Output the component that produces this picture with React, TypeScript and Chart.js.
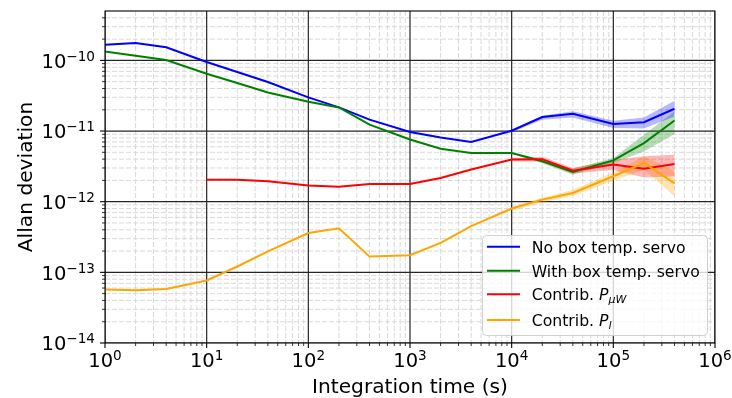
import { useEffect, useRef } from 'react';
import { Chart, registerables } from 'chart.js';

Chart.register(...registerables);

const FONT = '"DejaVu Sans", "Liberation Sans", sans-serif';

// Averaging times (s)
const taus = [1, 2, 4, 10, 20, 40, 100, 200, 400, 1000, 2000, 4000, 1e4, 2e4, 4e4, 1e5, 2e5, 4e5];

// Allan deviation series
const noBoxServo = [1.67e-10, 1.76e-10, 1.53e-10, 9.5e-11, 6.85e-11, 4.95e-11, 3.0e-11, 2.16e-11, 1.45e-11, 9.7e-12, 8.1e-12, 7.0e-12, 1.01e-11, 1.58e-11, 1.76e-11, 1.26e-11, 1.33e-11, 2.07e-11];
const withBoxServo = [1.34e-10, 1.16e-10, 1.01e-10, 6.48e-11, 4.79e-11, 3.52e-11, 2.6e-11, 2.16e-11, 1.23e-11, 7.6e-12, 5.6e-12, 4.9e-12, 4.9e-12, 3.73e-12, 2.63e-12, 3.84e-12, 6.76e-12, 1.41e-11];
const contribPuw = [null, null, null, 2.05e-12, 2.05e-12, 1.95e-12, 1.69e-12, 1.63e-12, 1.78e-12, 1.78e-12, 2.17e-12, 2.85e-12, 3.94e-12, 4.0e-12, 2.74e-12, 3.35e-12, 2.93e-12, 3.42e-12];
const contribPl = [5.7e-14, 5.6e-14, 5.8e-14, 7.66e-14, 1.21e-13, 1.98e-13, 3.6e-13, 4.2e-13, 1.67e-13, 1.75e-13, 2.61e-13, 4.5e-13, 8.0e-13, 1.07e-12, 1.33e-12, 2.29e-12, 3.53e-12, 1.82e-12];

// Confidence bands at long averaging times
const bandTaus = [1e4, 2e4, 4e4, 1e5, 2e5, 4e5];
const noBoxLow = [9.64e-12, 1.45e-11, 1.56e-11, 1.1e-11, 1.09e-11, 1.61e-11];
const noBoxHigh = [1.045e-11, 1.65e-11, 1.9e-11, 1.4e-11, 1.56e-11, 2.69e-11];
const withBoxLow = [4.8e-12, 3.51e-12, 2.41e-12, 3.54e-12, 5.15e-12, 9.1e-12];
const withBoxHigh = [5.02e-12, 3.97e-12, 2.93e-12, 4.17e-12, 8.87e-12, 1.9e-11];
const puwLow = [3.74e-12, 3.68e-12, 2.5e-12, 2.8e-12, 2.2e-12, 2.3e-12];
const puwHigh = [4.13e-12, 4.34e-12, 3.0e-12, 3.9e-12, 4.38e-12, 4.6e-12];
const plLow = [7.46e-13, 9.84e-13, 1.2e-12, 1.98e-12, 2.83e-12, 1.19e-12];
const plHigh = [8.49e-13, 1.14e-12, 1.46e-12, 2.6e-12, 4.38e-12, 2.7e-12];

const xDecades = [0, 1, 2, 3, 4, 5, 6];
const yDecades = [-14, -13, -12, -11, -10];

const X_MIN = 1;
const X_MAX = 1e6;
const Y_MIN = 1e-14;
const Y_MAX = 5e-10;

type Series = {
  label: string;
  sub?: string;
  color: string;
  fill: string;
  values: (number | null)[];
  low: number[];
  high: number[];
  order: number;
};

const series: Series[] = [
  { label: 'No box temp. servo', color: '#0000ff', fill: 'rgba(0,0,255,0.28)', values: noBoxServo, low: noBoxLow, high: noBoxHigh, order: 3 },
  { label: 'With box temp. servo', color: '#008000', fill: 'rgba(0,128,0,0.28)', values: withBoxServo, low: withBoxLow, high: withBoxHigh, order: 2 },
  { label: 'Contrib. ', sub: 'μW', color: '#ff0000', fill: 'rgba(255,0,0,0.28)', values: contribPuw, low: puwLow, high: puwHigh, order: 1 },
  { label: 'Contrib. ', sub: 'l', color: '#ffa500', fill: 'rgba(255,165,0,0.3)', values: contribPl, low: plLow, high: plHigh, order: 0 },
];

const toPoints = (xs: number[], ys: (number | null)[]) =>
  xs.map((x, i) => ({ x, y: ys[i] })).filter((p) => p.y !== null) as { x: number; y: number }[];

function drawPower(ctx: CanvasRenderingContext2D, exp: string, x: number, baseline: number, align: 'right' | 'center') {
  const mainFont = `19.5px ${FONT}`;
  const expFont = `13.6px ${FONT}`;
  ctx.font = mainFont;
  const wMain = ctx.measureText('10').width;
  ctx.font = expFont;
  const wExp = ctx.measureText(exp).width;
  const total = wMain + wExp;
  const left = align === 'right' ? x - total : x - total / 2;
  ctx.textAlign = 'left';
  ctx.textBaseline = 'alphabetic';
  ctx.font = mainFont;
  ctx.fillText('10', left, baseline);
  ctx.font = expFont;
  ctx.fillText(exp, left + wMain, baseline - 7);
}

const expText = (d: number) => (d < 0 ? '\u2212' + String(-d) : String(d));

const axesPlugin = {
  id: 'allanAxes',
  beforeDatasetsDraw(chart: any) {
    const { ctx, chartArea: a, scales } = chart;
    const xs = scales.x;
    const ys = scales.y;
    ctx.save();
    ctx.beginPath();
    ctx.rect(a.left, a.top, a.right - a.left, a.bottom - a.top);
    ctx.clip();

    // minor dashed grid
    ctx.strokeStyle = '#d9d9d9';
    ctx.lineWidth = 1;
    ctx.setLineDash([5, 2]);
    for (let d = 0; d < 6; d++) {
      for (let m = 2; m <= 9; m++) {
        const px = xs.getPixelForValue(m * Math.pow(10, d));
        ctx.beginPath();
        ctx.moveTo(px, a.top);
        ctx.lineTo(px, a.bottom);
        ctx.stroke();
      }
    }
    for (let d = -14; d <= -10; d++) {
      for (let m = 2; m <= 9; m++) {
        const v = m * Math.pow(10, d);
        if (v >= Y_MAX) continue;
        const py = ys.getPixelForValue(v);
        ctx.beginPath();
        ctx.moveTo(a.left, py);
        ctx.lineTo(a.right, py);
        ctx.stroke();
      }
    }

    // major solid grid
    ctx.setLineDash([]);
    ctx.strokeStyle = '#262626';
    ctx.lineWidth = 1.2;
    for (const d of xDecades) {
      const px = xs.getPixelForValue(Math.pow(10, d));
      ctx.beginPath();
      ctx.moveTo(px, a.top);
      ctx.lineTo(px, a.bottom);
      ctx.stroke();
    }
    for (const d of yDecades) {
      const py = ys.getPixelForValue(Math.pow(10, d));
      ctx.beginPath();
      ctx.moveTo(a.left, py);
      ctx.lineTo(a.right, py);
      ctx.stroke();
    }
    ctx.restore();
  },
  afterDatasetsDraw(chart: any) {
    const { ctx, chartArea: a, scales } = chart;
    const xs = scales.x;
    const ys = scales.y;
    ctx.save();

    // spines
    ctx.strokeStyle = '#000';
    ctx.lineWidth = 1.1;
    ctx.strokeRect(a.left, a.top, a.right - a.left, a.bottom - a.top);

    // tick marks
    ctx.lineWidth = 1.1;
    for (const d of xDecades) {
      const px = xs.getPixelForValue(Math.pow(10, d));
      ctx.beginPath();
      ctx.moveTo(px, a.bottom);
      ctx.lineTo(px, a.bottom + 5);
      ctx.stroke();
    }
    for (const d of yDecades) {
      const py = ys.getPixelForValue(Math.pow(10, d));
      ctx.beginPath();
      ctx.moveTo(a.left, py);
      ctx.lineTo(a.left - 5, py);
      ctx.stroke();
    }
    ctx.lineWidth = 0.8;
    for (let d = 0; d < 6; d++) {
      for (let m = 2; m <= 9; m++) {
        const px = xs.getPixelForValue(m * Math.pow(10, d));
        ctx.beginPath();
        ctx.moveTo(px, a.bottom);
        ctx.lineTo(px, a.bottom + 3);
        ctx.stroke();
      }
    }
    for (let d = -14; d <= -10; d++) {
      for (let m = 2; m <= 9; m++) {
        const v = m * Math.pow(10, d);
        if (v >= Y_MAX) continue;
        const py = ys.getPixelForValue(v);
        ctx.beginPath();
        ctx.moveTo(a.left, py);
        ctx.lineTo(a.left - 3, py);
        ctx.stroke();
      }
    }

    // tick labels
    ctx.fillStyle = '#000';
    for (const d of xDecades) {
      const px = xs.getPixelForValue(Math.pow(10, d));
      drawPower(ctx, expText(d), px, a.bottom + 23.5, 'center');
    }
    for (const d of yDecades) {
      const py = ys.getPixelForValue(Math.pow(10, d));
      drawPower(ctx, expText(d), a.left - 10, py + 7.2, 'right');
    }

    // axis titles
    ctx.font = `20.2px ${FONT}`;
    ctx.textAlign = 'center';
    ctx.textBaseline = 'alphabetic';
    ctx.fillText('Integration time (s)', (a.left + a.right) / 2, 392.5);
    ctx.save();
    ctx.translate(31.5, (a.top + a.bottom) / 2);
    ctx.rotate(-Math.PI / 2);
    ctx.fillText('Allan deviation', 0, 0);
    ctx.restore();

    ctx.restore();
  },
  afterDraw(chart: any) {
    const { ctx } = chart;
    ctx.save();
    // legend frame
    const bx = 482, by = 235, bw = 225, bh = 100;
    ctx.beginPath();
    ctx.roundRect(bx + 0.5, by + 0.5, bw, bh, 4);
    ctx.fillStyle = 'rgba(255,255,255,0.8)';
    ctx.fill();
    ctx.strokeStyle = 'rgba(204,204,204,0.9)';
    ctx.lineWidth = 1;
    ctx.stroke();

    const rows = [246.7, 270.7, 294.3, 320];
    const textFont = `15.7px ${FONT}`;
    const italicFont = `italic 15.7px ${FONT}`;
    const subFont = `italic 11px ${FONT}`;
    series.forEach((s, i) => {
      const ry = rows[i];
      ctx.strokeStyle = s.color;
      ctx.lineWidth = 2;
      ctx.beginPath();
      ctx.moveTo(487, ry);
      ctx.lineTo(520, ry);
      ctx.stroke();

      ctx.fillStyle = '#000';
      ctx.textAlign = 'left';
      ctx.textBaseline = 'alphabetic';
      ctx.font = textFont;
      const base = ry + 6;
      let tx = 531.7;
      ctx.fillText(s.label, tx, base);
      if (s.sub) {
        tx += ctx.measureText(s.label).width;
        ctx.font = italicFont;
        ctx.fillText('P', tx, base);
        tx += ctx.measureText('P').width;
        ctx.font = subFont;
        ctx.fillText(s.sub, tx, base + 3);
      }
    });
    ctx.restore();
  },
};

export default function App() {
  const canvasRef = useRef<HTMLCanvasElement | null>(null);

  useEffect(() => {
    const canvas = canvasRef.current;
    if (!canvas) return;

    const datasets: any[] = [];
    series.forEach((s) => {
      datasets.push({
        label: s.label + (s.sub ?? ''),
        data: toPoints(taus, s.values),
        borderColor: s.color,
        borderWidth: 2,
        pointRadius: 0,
        fill: false,
        tension: 0,
        order: s.order,
      });
      datasets.push({
        label: s.label + ' low',
        data: toPoints(bandTaus, s.low),
        borderWidth: 0,
        borderColor: 'rgba(0,0,0,0)',
        pointRadius: 0,
        fill: false,
        order: 10,
      });
      datasets.push({
        label: s.label + ' high',
        data: toPoints(bandTaus, s.high),
        borderWidth: 0,
        borderColor: 'rgba(0,0,0,0)',
        backgroundColor: s.fill,
        pointRadius: 0,
        fill: '-1',
        order: 10,
      });
    });

    const chart = new Chart(canvas, {
      type: 'line',
      data: { datasets },
      options: {
        animation: false,
        responsive: false,
        devicePixelRatio: 1,
        layout: { padding: { left: 105, right: 17, top: 11, bottom: 55 } },
        plugins: {
          legend: { display: false },
          tooltip: { enabled: false },
        },
        scales: {
          x: { type: 'logarithmic', min: X_MIN, max: X_MAX, display: false },
          y: { type: 'logarithmic', min: Y_MIN, max: Y_MAX, display: false },
        },
      },
      plugins: [axesPlugin],
    });

    return () => chart.destroy();
  }, []);

  return (
    <div style={{ position: 'absolute', left: 0, top: 0, width: 732, height: 398, background: '#fff' }}>
      <canvas ref={canvasRef} width={732} height={398} />
    </div>
  );
}
